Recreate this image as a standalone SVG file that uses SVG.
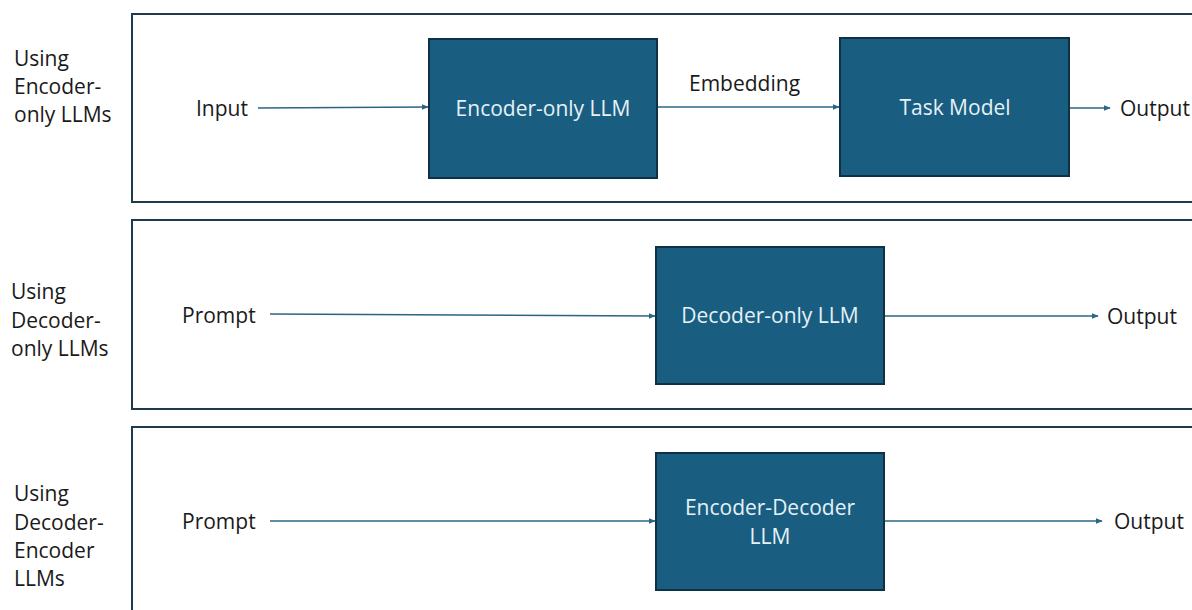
<svg xmlns="http://www.w3.org/2000/svg" width="1192" height="610" viewBox="0 0 1192 610">
  <defs>
    <marker id="arrow" viewBox="0 0 10 10" refX="9" refY="5" markerWidth="7" markerHeight="7" markerUnits="userSpaceOnUse" orient="auto">
      <path d="M0,1 L10,5 L0,9 z" fill="#2a6584"/>
    </marker>
    <style>
      .panel { fill: #ffffff; stroke: #1d3b4c; stroke-width: 2; }
      .node rect { fill: #195e80; stroke: #0e3145; stroke-width: 2; }
      .node text { fill: #e4f1f7; font-family: "Open Sans", "Noto Sans", sans-serif; font-size: 21px; text-anchor: middle; }
      .lbl { fill: #1a1a1a; font-family: "Open Sans", "Noto Sans", sans-serif; font-size: 21px; }
      .edge { stroke: #2a6584; stroke-width: 1.6; fill: none; marker-end: url(#arrow); }
    </style>
  </defs>
  <rect width="1192" height="610" fill="#ffffff"/>

  <!-- row frames -->
  <rect class="panel" x="132" y="14" width="1080" height="188"/>
  <rect class="panel" x="132" y="220" width="1080" height="189"/>
  <rect class="panel" x="132" y="427" width="1080" height="200"/>

  <!-- row titles -->
  <text class="lbl" x="14" y="66">Using</text>
  <text class="lbl" x="14" y="94">Encoder-</text>
  <text class="lbl" x="14" y="122">only LLMs</text>

  <text class="lbl" x="11" y="299">Using</text>
  <text class="lbl" x="11" y="328">Decoder-</text>
  <text class="lbl" x="11" y="356">only LLMs</text>

  <text class="lbl" x="14" y="501">Using</text>
  <text class="lbl" x="14" y="530">Decoder-</text>
  <text class="lbl" x="14" y="558">Encoder</text>
  <text class="lbl" x="14" y="586">LLMs</text>

  <!-- inputs / outputs -->
  <text class="lbl" x="196" y="116">Input</text>
  <text class="lbl" x="689" y="91">Embedding</text>
  <text class="lbl" x="1120" y="116">Output</text>
  <text class="lbl" x="182" y="323">Prompt</text>
  <text class="lbl" x="1107" y="324">Output</text>
  <text class="lbl" x="182" y="529">Prompt</text>
  <text class="lbl" x="1114" y="529">Output</text>

  <g id="connectors">
    <line class="edge" x1="258" y1="108" x2="428" y2="107"/>
    <line class="edge" x1="657" y1="107" x2="839" y2="107"/>
    <line class="edge" x1="1069" y1="108" x2="1110" y2="108"/>
    <line class="edge" x1="270" y1="314" x2="655" y2="316"/>
    <line class="edge" x1="884" y1="316" x2="1098" y2="316"/>
    <line class="edge" x1="270" y1="521" x2="655" y2="521"/>
    <line class="edge" x1="884" y1="521" x2="1102" y2="521"/>
  </g>

  <g id="encoder-only-llm" class="node">
    <rect x="429" y="39" width="228" height="139"/>
    <text x="543" y="116">Encoder-only LLM</text>
  </g>
  <g id="task-model" class="node">
    <rect x="840" y="38" width="229" height="138"/>
    <text x="955" y="115">Task Model</text>
  </g>
  <g id="decoder-only-llm" class="node">
    <rect x="656" y="247" width="228" height="137"/>
    <text x="770" y="323">Decoder-only LLM</text>
  </g>
  <g id="encoder-decoder-llm" class="node">
    <rect x="656" y="453" width="228" height="137"/>
    <text x="770" y="515">Encoder-Decoder</text>
    <text x="770" y="544">LLM</text>
  </g>
</svg>
